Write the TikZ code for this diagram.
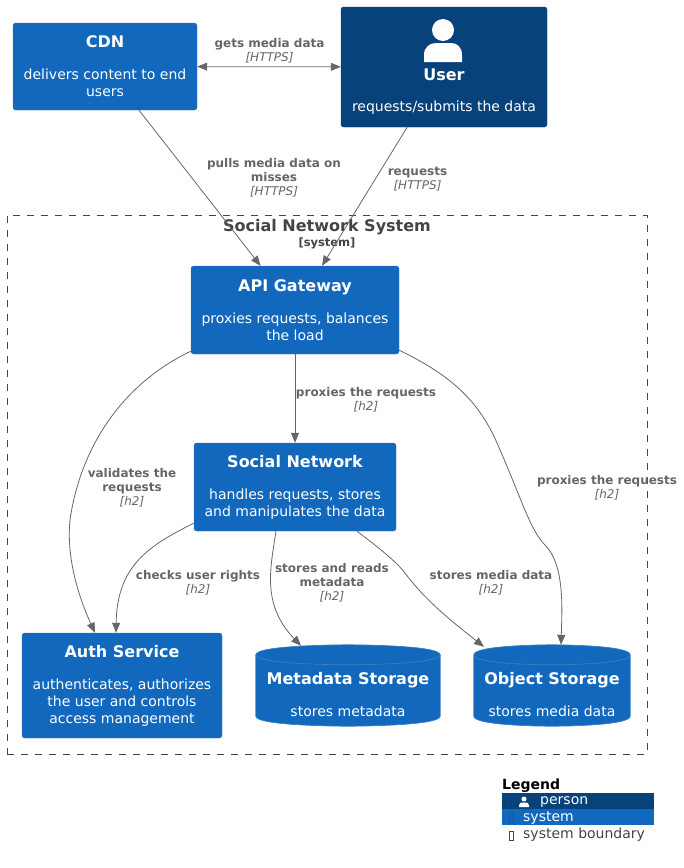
\documentclass[tikz,border=0pt]{standalone}
\usepackage{fontspec}
\setmainfont{DejaVu Sans}
\usetikzlibrary{arrows.meta}
\definecolor{sysblue}{HTML}{1168BD}
\definecolor{sysline}{HTML}{3C7FC0}
\definecolor{persblue}{HTML}{08427B}
\definecolor{persline}{HTML}{073B6F}
\definecolor{linkgray}{HTML}{666666}
\definecolor{bndgray}{HTML}{444444}
\newcommand{\boxtext}[2]{{\fontsize{16}{19}\selectfont\bfseries #1}\\[15pt]#2}
\newcommand{\linkb}[1]{{\bfseries #1}}
\newcommand{\linki}[1]{{\itshape #1}}
\newcommand{\dbdraw}[1]{
	\draw [draw=sysline,fill=sysblue,line width=0.7pt] ([yshift=-10pt]#1.north west) .. controls (#1.north west) and (#1.north) .. (#1.north) .. controls (#1.north) and (#1.north east) .. ([yshift=-10pt]#1.north east) -- ([yshift=10pt]#1.south east) .. controls (#1.south east) and (#1.south) .. (#1.south) .. controls (#1.south) and (#1.south west) .. ([yshift=10pt]#1.south west) -- cycle;
	\draw [draw=sysline,line width=0.7pt] ([yshift=-10pt]#1.north west) .. controls ([yshift=-20pt]#1.north west) and ([yshift=-20pt]#1.north) .. ([yshift=-20pt]#1.north) .. controls ([yshift=-20pt]#1.north) and ([yshift=-20pt]#1.north east) .. ([yshift=-10pt]#1.north east);
}
\tikzset{
	sysbox/.style 2 args={rectangle,rounded corners=2.5pt,draw=sysline,fill=sysblue,text=white,align=center,font=\fontsize{14}{17}\selectfont,minimum width=#1,minimum height=#2,inner sep=0pt},
	persbox/.style 2 args={sysbox={#1}{#2},draw=persline,fill=persblue},
	sysdb/.style 2 args={rectangle,minimum width=#1,minimum height=#2,inner sep=0pt},
	dbtext/.style={text=white,align=center,font=\fontsize{14}{17}\selectfont,inner sep=0pt},
	linktxt/.style={text=linkgray,align=center,font=\fontsize{12}{14}\selectfont,inner sep=0pt},
	link/.style={draw=linkgray,-{Triangle[length=10pt,width=8pt]},line width=0.8pt},
	linkboth/.style={link,{Triangle[length=10pt,width=8pt]}-{Triangle[length=10pt,width=8pt]}},
	legrow/.style={minimum width=152pt,minimum height=16pt,inner sep=0pt},
	legtext/.style={font=\fontsize{14}{16}\selectfont,inner sep=0pt,anchor=west},
	tofu/.style={draw=#1,line width=0.5pt,minimum width=4pt,minimum height=9pt,inner sep=0pt}
}
\begin{document}
\begin{tikzpicture}[x=1pt,y=-1pt]
	\useasboundingbox (0,0) rectangle (684,868);

	\node [sysbox={184pt}{87pt}] (cdn) at (105,66.5) {\boxtext{CDN}{delivers content to end\\users}};
	\node [persbox={206pt}{120pt}] (user) at (444,67) {};
	\fill [white,shift={(user.center)}] (-1,-37) circle (11);
	\fill [white,shift={(user.center)}] (-20,-5) -- (-20,-12) .. controls (-20,-20) and (-14,-24) .. (-8,-24) -- (7,-24) .. controls (13,-24) and (18,-20) .. (18,-12) -- (18,-5) -- cycle;
	\node [text=white,font=\fontsize{16}{19}\selectfont\bfseries,inner sep=0pt] (usertitle) at (444,75) {User};
	\node [text=white,font=\fontsize{14}{17}\selectfont,inner sep=0pt] (userdesc) at (444,108) {requests/submits the data};

	\node [draw=bndgray,dash pattern=on 7pt off 7pt,line width=1pt,minimum width=640pt,minimum height=539pt,inner sep=0pt] (bnd) at (327,484.5) {};
	\node [text=bndgray,font=\fontsize{16}{19}\selectfont\bfseries,inner sep=0pt] (bndtitle) at (327,227) {Social Network System};
	\node [text=bndgray,font=\fontsize{11.5}{13}\selectfont\bfseries,inner sep=0pt] (bndtype) at (327,243) {[system]};

	\node [sysbox={208pt}{88pt}] (api) at (295,310) {\boxtext{API Gateway}{proxies requests, balances\\the load}};
	\node [sysbox={202pt}{88pt}] (social) at (295,487) {\boxtext{Social Network}{handles requests, stores\\and manipulates the data}};
	\node [sysbox={200pt}{105pt}] (auth) at (122,685.5) {\boxtext{Auth Service}{authenticates, authorizes\\the user and controls\\access management}};
	\node [sysdb={184pt}{81pt}] (meta) at (348,685.5) {};
	\node [sysdb={156pt}{81pt}] (object) at (552,685.5) {};
	\dbdraw{meta}
	\dbdraw{object}
	\node [dbtext] (metatext) at (348,695) {\boxtext{Metadata Storage}{stores metadata}};
	\node [dbtext] (objecttext) at (552,695) {\boxtext{Object Storage}{stores media data}};

	\draw [linkboth] (cdn) -- (user);
	\draw [link] (cdn) -- (api);
	\draw [link] (user) -- (api);
	\draw [link] (api) -- (social);
	\draw [link] ([yshift=3pt]api.south west) .. controls (120,385) and (80,450) .. (70,520) .. controls (66,560) and (80,600) .. ([xshift=-27pt]auth.north);
	\draw [link] ([yshift=4pt]api.south east) .. controls (450,375) and (480,400) .. (500,450) .. controls (520,495) and (530,530) .. (545,545) .. controls (565,565) and (562,610) .. ([xshift=9pt]object.north);
	\draw [link] ([yshift=8pt]social.south west) .. controls (150,545) and (117,565) .. ([xshift=-6pt]auth.north);
	\draw [link] ([xshift=-19pt]social.south) .. controls (270,570) and (262,605) .. ([xshift=-47pt,yshift=-1pt]meta.north);
	\draw [link] ([xshift=62pt]social.south) .. controls (375,545) and (395,560) .. (405,573) .. controls (425,600) and (450,620) .. ([xshift=-68pt,yshift=-2pt]object.north);

	\node [linktxt] (l1) at (269.5,51) {\linkb{gets media data}\\\linki{[HTTPS]}};
	\node [linktxt] (l2) at (274,178) {\linkb{pulls media data on}\\\linkb{misses}\\\linki{[HTTPS]}};
	\node [linktxt] (l3) at (417.5,179) {\linkb{requests}\\\linki{[HTTPS]}};
	\node [linktxt] (l4) at (366,400) {\linkb{proxies the requests}\\\linki{[h2]}};
	\node [linktxt] (l5) at (132,488) {\linkb{validates the}\\\linkb{requests}\\\linki{[h2]}};
	\node [linktxt] (l6) at (607,488) {\linkb{proxies the requests}\\\linki{[h2]}};
	\node [linktxt] (l7) at (198,583) {\linkb{checks user rights}\\\linki{[h2]}};
	\node [linktxt] (l8) at (332,583) {\linkb{stores and reads}\\\linkb{metadata}\\\linki{[h2]}};
	\node [linktxt] (l9) at (491,583) {\linkb{stores media data}\\\linki{[h2]}};

	\node [font=\fontsize{14}{16}\selectfont\bfseries,inner sep=0pt,anchor=west] (legtitle) at (502,786) {Legend};
	\node [legrow,fill=persblue] (legperson) at (578,801) {};
	\node [legrow,fill=sysblue] (legsystem) at (578,817) {};
	\node [tofu=persblue!80!sysblue] (tofua) at (510,801) {};
	\node [tofu=sysblue!85!black] (tofub) at (511,817) {};
	\node [tofu=bndgray] (tofuc) at (511,835.5) {};
	\fill [white] (524,799) circle (2.5);
	\fill [white] (519,807) -- (519,805.5) .. controls (519,803) and (521,802.5) .. (522,802.5) -- (526,802.5) .. controls (527,802.5) and (529,803) .. (529,805.5) -- (529,807) -- cycle;
	\node [legtext,text=white] (legpersontxt) at (540,802) {person};
	\node [legtext,text=white] (legsystemtxt) at (523,818.5) {system};
	\node [legtext,text=bndgray] (legbndtxt) at (523,835) {system boundary};
\end{tikzpicture}
\end{document}
